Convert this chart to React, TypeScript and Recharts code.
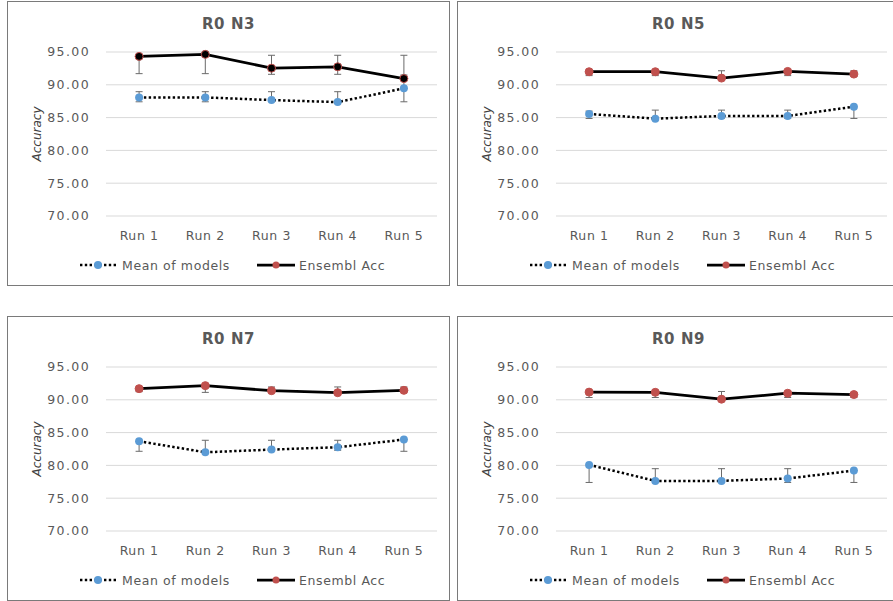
import { CartesianGrid, ErrorBar, Line, LineChart, XAxis, YAxis } from 'recharts'

const runs = ['Run 1', 'Run 2', 'Run 3', 'Run 4', 'Run 5']
const yTicks = [70, 75, 80, 85, 90, 95]

// R0 N3
const n3Mean = [88.08, 88.08, 87.67, 87.36, 89.46]
const n3MeanLow = [87.41, 87.41, 87.67, 87.36, 87.41]
const n3MeanHigh = [88.95, 88.95, 88.95, 88.95, 91.5]
const n3Ens = [94.33, 94.64, 92.54, 92.74, 90.95]
const n3EnsLow = [91.7, 91.7, 91.6, 91.6, 90.95]
const n3EnsHigh = [94.33, 94.64, 94.5, 94.5, 94.5]

// R0 N5
const n5Mean = [85.55, 84.84, 85.25, 85.25, 86.66]
const n5MeanLow = [84.87, 84.84, 84.9, 84.9, 84.87]
const n5MeanHigh = [85.99, 86.14, 86.14, 86.14, 86.66]
const n5Ens = [91.99, 91.99, 91.02, 92.04, 91.63]
const n5EnsLow = [91.4, 91.4, 91.02, 91.4, 91.3]
const n5EnsHigh = [91.99, 91.99, 92.14, 92.04, 92.14]

// R0 N7
const n7Mean = [83.68, 82.0, 82.41, 82.77, 83.94]
const n7MeanLow = [82.15, 82.0, 82.41, 82.3, 82.15]
const n7MeanHigh = [83.68, 83.83, 83.83, 83.83, 83.94]
const n7Ens = [91.7, 92.16, 91.39, 91.08, 91.44]
const n7EnsLow = [91.24, 91.13, 91.39, 91.08, 91.44]
const n7EnsHigh = [91.7, 92.16, 91.96, 91.96, 91.96]

// R0 N9
const n9Mean = [80.08, 77.64, 77.64, 78.0, 79.21]
const n9MeanLow = [77.4, 77.64, 77.64, 77.4, 77.4]
const n9MeanHigh = [80.08, 79.5, 79.5, 79.5, 79.21]
const n9Ens = [91.17, 91.14, 90.1, 91.0, 90.8]
const n9EnsLow = [90.35, 90.35, 90.1, 90.35, 90.35]
const n9EnsHigh = [91.17, 91.14, 91.27, 91.0, 91.1]

const font = '"DejaVu Sans", sans-serif'
const textColor = '#595959'
const blue = '#5b9bd5'
const red = '#c0504d'

interface PanelProps {
  title: string
  left: number
  top: number
  mean: number[]
  meanLow: number[]
  meanHigh: number[]
  ens: number[]
  ensLow: number[]
  ensHigh: number[]
  ensFill: string
}

function Panel({ title, left, top, mean, meanLow, meanHigh, ens, ensLow, ensHigh, ensFill }: PanelProps) {
  const data = runs.map((run, i) => ({
    run,
    mean: mean[i],
    meanErr: [mean[i] - meanLow[i], meanHigh[i] - mean[i]],
    ens: ens[i],
    ensErr: [ens[i] - ensLow[i], ensHigh[i] - ens[i]],
  }))

  return (
    <div
      style={{
        position: 'absolute',
        left,
        top,
        width: 443,
        height: 285,
        border: '1px solid #7a7a7a',
        boxSizing: 'border-box',
        background: '#fff',
        fontFamily: font,
      }}
    >
      <div
        style={{
          position: 'absolute',
          left: 0,
          top: 13,
          width: '100%',
          textAlign: 'center',
          fontWeight: 'bold',
          fontSize: 15,
          lineHeight: '18px',
          letterSpacing: 0.6,
          color: textColor,
        }}
      >
        {title}
      </div>
      <div
        style={{
          position: 'absolute',
          left: -11,
          top: 124,
          width: 80,
          height: 16,
          lineHeight: '16px',
          textAlign: 'center',
          transform: 'rotate(-90deg)',
          fontStyle: 'italic',
          fontSize: 12,
          color: '#404040',
        }}
      >
        Accuracy
      </div>

      <LineChart width={441} height={283} data={data} margin={{ top: 50, right: 12, bottom: 39, left: 38 }}>
        <CartesianGrid vertical={false} stroke="#d9d9d9" strokeWidth={1} />
        <XAxis
          dataKey="run"
          scale="band"
          axisLine={false}
          tickLine={false}
          tickSize={0}
          tickMargin={15}
          height={30}
          tick={{ fill: textColor, fontSize: 12.5, fontFamily: font, letterSpacing: 0.6 }}
        />
        <YAxis
          type="number"
          domain={[70, 95]}
          ticks={yTicks}
          width={60}
          axisLine={false}
          tickLine={false}
          tickSize={0}
          tickMargin={16}
          tickFormatter={(v: number) => v.toFixed(2)}
          tick={{ fill: textColor, fontSize: 12.5, fontFamily: font, letterSpacing: 1.4 }}
        />
        <Line
          dataKey="mean"
          stroke="#000"
          strokeWidth={2.5}
          strokeDasharray="2.4 2.4"
          dot={{ r: 4, fill: blue, stroke: blue, strokeWidth: 0, strokeDasharray: 'none' }}
          isAnimationActive={false}
        >
          <ErrorBar dataKey="meanErr" width={3.5} stroke="#6a6a6a" strokeWidth={1} direction="y" isAnimationActive={false} />
        </Line>
        <Line
          dataKey="ens"
          stroke="#000"
          strokeWidth={2.75}
          dot={{ r: 4, fill: ensFill, stroke: red, strokeWidth: 1 }}
          isAnimationActive={false}
        >
          <ErrorBar dataKey="ensErr" width={3.5} stroke="#6a6a6a" strokeWidth={1} direction="y" isAnimationActive={false} />
        </Line>
      </LineChart>

      <div style={{ position: 'absolute', left: 71, top: 255, height: 16, display: 'flex', alignItems: 'center' }}>
        <svg width={38} height={16}>
          <line x1={1} y1={8} x2={37} y2={8} stroke="#000" strokeWidth={2.5} strokeDasharray="2.4 2.4" />
          <circle cx={19} cy={8} r={4} fill={blue} />
        </svg>
        <span style={{ marginLeft: 5, fontSize: 12.5, color: textColor, letterSpacing: 0.6 }}>Mean of models</span>
      </div>
      <div style={{ position: 'absolute', left: 249, top: 255, height: 16, display: 'flex', alignItems: 'center' }}>
        <svg width={38} height={16}>
          <line x1={0} y1={8} x2={38} y2={8} stroke="#000" strokeWidth={2.75} />
          <circle cx={19} cy={8} r={3.5} fill={red} />
        </svg>
        <span style={{ marginLeft: 4, fontSize: 12.5, color: textColor, letterSpacing: 0.6 }}>Ensembl Acc</span>
      </div>
    </div>
  )
}

export default function App() {
  return (
    <div style={{ position: 'absolute', left: 0, top: 0, width: 893, height: 601, background: '#fff', overflow: 'hidden' }}>
      <Panel title="R0 N3" left={7} top={1} mean={n3Mean} meanLow={n3MeanLow} meanHigh={n3MeanHigh} ens={n3Ens} ensLow={n3EnsLow} ensHigh={n3EnsHigh} ensFill="#000" />
      <Panel title="R0 N5" left={457} top={1} mean={n5Mean} meanLow={n5MeanLow} meanHigh={n5MeanHigh} ens={n5Ens} ensLow={n5EnsLow} ensHigh={n5EnsHigh} ensFill={red} />
      <Panel title="R0 N7" left={7} top={316} mean={n7Mean} meanLow={n7MeanLow} meanHigh={n7MeanHigh} ens={n7Ens} ensLow={n7EnsLow} ensHigh={n7EnsHigh} ensFill={red} />
      <Panel title="R0 N9" left={457} top={316} mean={n9Mean} meanLow={n9MeanLow} meanHigh={n9MeanHigh} ens={n9Ens} ensLow={n9EnsLow} ensHigh={n9EnsHigh} ensFill={red} />
    </div>
  )
}
